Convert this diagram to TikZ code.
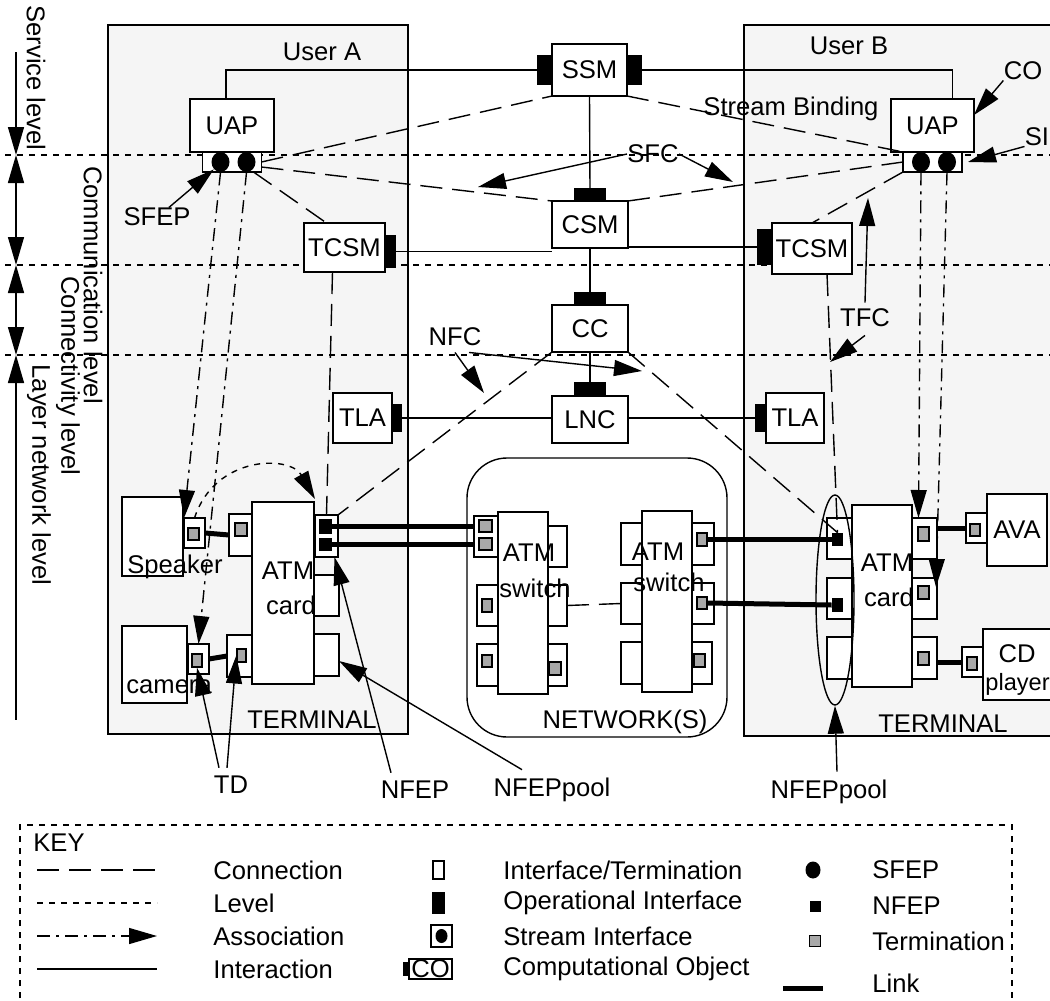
\documentclass[tikz,border=0pt]{standalone}
\usepackage{fontspec}
\setmainfont{Liberation Sans}
\usetikzlibrary{arrows.meta,positioning,shapes.geometric,calc}

\definecolor{usergray}{RGB}{245,245,245}
\definecolor{termgray}{RGB}{168,168,168}

\tikzset{
  sz/.style 2 args={minimum width=#1*0.5pt, minimum height=#2*0.5pt},
  box/.style={draw, fill=white, line width=0.7pt, inner sep=0pt, outer sep=0pt},
  opif/.style={draw, fill=black, line width=0.7pt, inner sep=0pt, outer sep=0pt},
  term/.style={draw, fill=termgray, line width=0.7pt, inner sep=0pt, sz={11}{13}},
  nfsq/.style={fill=black, inner sep=0pt, sz={12}{13}},
  sfep/.style={ellipse, fill=black, inner sep=0pt, sz={18}{20}},
  txt/.style={inner sep=0pt},
  interaction/.style={line width=0.7pt},
  connection/.style={line width=0.7pt, dash pattern=on 11pt off 5pt},
  levelline/.style={line width=0.7pt, dash pattern=on 3pt off 3pt},
  assoc/.style={line width=0.7pt, dash pattern=on 6.5pt off 3pt on 1.5pt off 3pt, ->},
  pointer/.style={line width=0.7pt, ->},
  link/.style={line width=2.5pt},
}

\begin{document}
\begin{tikzpicture}[x=0.5pt, y=-0.5pt, >={Triangle[length=14pt,width=8pt]},
    font=\fontsize{12.8}{15}\selectfont]
    \useasboundingbox (0,0) rectangle (1050,1001);
    \clip (0,0) rectangle (1050,1001);

    % user domains
    \draw[fill=usergray, line width=0.7pt] (108,25) rectangle (408,734);
    \draw[fill=usergray, line width=0.7pt] (744,25) rectangle (1070,736);
    \node[txt] (userA) at (322,52) {User A};
    \node[txt] (userB) at (849,46) {User B};

    % levels
    \foreach \y in {155,265,355} \draw[levelline] (5,\y) -- (1050,\y);
    \coordinate (lv0) at (16,52); \coordinate (lv1) at (16,155); \coordinate (lv2) at (16,265);
    \coordinate (lv3) at (16,355); \coordinate (lv4) at (16,720);
    \draw[pointer] (lv0) -- (lv1); \draw[pointer, <->] (lv1) -- (lv2);
    \draw[pointer, <->] (lv2) -- (lv3); \draw[pointer, <-] (lv3) -- (lv4);
    \node[txt, rotate=-90] (lvService) at (36,78) {Service level};
    \node[txt, rotate=-90] (lvComm) at (93,285) {Communication level};
    \node[txt, rotate=-90] (lvConn) at (68,376) {Connectivity level};
    \node[txt, rotate=-90] (lvLayer) at (39,475) {Layer network level};

    % computational objects
    \node[box, sz={75}{52}] (ssm) at (589.5,70) {SSM};
    \node[opif, sz={14}{28}, anchor=east] (ssmL) at (ssm.west) {};
    \node[opif, sz={14}{28}, anchor=west] (ssmR) at (ssm.east) {};
    \node[box, sz={76}{47}] (csm) at (590,224.5) {CSM};
    \node[opif, sz={31}{12}, anchor=south] (csmT) at (csm.north) {};
    \node[box, sz={76}{47}] (cc) at (590,328.5) {CC};
    \node[opif, sz={31}{12}, anchor=south] (ccT) at (cc.north) {};
    \node[box, sz={76}{47}] (lnc) at (590,419.5) {LNC};
    \node[opif, sz={31}{13}, anchor=south] (lncT) at (lnc.north) {};

    \node[box, sz={84}{53}] (uapA) at (232,125.5) {UAP};
    \node[box, sz={59}{20}, anchor=north] (sifA) at (uapA.south) {};
    \node[sfep] (sfA1) at ($(sifA.center)+(-11.5,0)$) {};
    \node[sfep] (sfA2) at ($(sifA.center)+(14.5,0)$) {};
    \node[box, sz={83}{53}] (uapB) at (932.5,125.5) {UAP};
    \node[box, sz={59}{20}, anchor=north] (sifB) at (uapB.south) {};
    \node[sfep] (sfB1) at ($(sifB.center)+(-11.5,0)$) {};
    \node[sfep] (sfB2) at ($(sifB.center)+(14.5,0)$) {};

    \node[box, sz={81}{49}] (tcsmA) at (344.5,247.5) {TCSM};
    \node[opif, sz={10}{31}, anchor=west] (tcsmAR) at ([yshift=-2pt]tcsmA.east) {};
    \node[box, sz={80}{51}] (tcsmB) at (812,248.5) {TCSM};
    \node[opif, sz={14}{34}, anchor=east] (tcsmBL) at ([yshift=0.75pt]tcsmB.west) {};
    \node[box, sz={59}{50}] (tlaA) at (362.5,418) {TLA};
    \node[opif, sz={9}{27}, anchor=west] (tlaAR) at (tlaA.east) {};
    \node[box, sz={58}{50}] (tlaB) at (795,418) {TLA};
    \node[opif, sz={10}{27}, anchor=east] (tlaBL) at (tlaB.west) {};

    % terminal A
    \node[box, sz={61}{79}] (spk) at (152.5,536.5) {};
    \node[box, sz={21}{30}] (spkT) at (194.5,533) {};
    \node[term, sz={11}{12}] (spkTg) at (193.5,534) {};
    \node[box, sz={62}{182}] (cardA) at (283,593) {};
    \node[box, sz={23}{42}] (cAl1) at (240.5,535) {};
    \node[term, sz={12}{13}] (cAl1g) at (241,529.5) {};
    \node[box, sz={25}{42}] (cAl2) at (239.5,656) {};
    \node[term, sz={9}{13}] (cAl2g) at (241.5,655.5) {};
    \node[box, sz={23}{42}] (nfepA) at (326.5,536) {};
    \node[nfsq, sz={13}{15}] (nfA1) at (325.5,526.5) {};
    \node[nfsq, sz={13}{13}] (nfA2) at (325.5,544.5) {};
    \node[box, sz={25}{41}] (cAr2) at (326.5,595.5) {};
    \node[box, sz={25}{42}] (cAr3) at (326.5,655) {};
    \node[box, sz={65}{77}] (cam) at (154.5,664.5) {};
    \node[box, sz={21}{30}] (camT) at (198.5,659) {};
    \node[term, sz={10}{13}] (camTg) at (197,660.5) {};
    \node[txt, anchor=base west] (spkLbl) at (127,573) {Speaker};
    \node[txt, anchor=base west] (camLbl) at (126,693) {camera};
    \node[txt] (atmA) at (288,571) {ATM};
    \node[txt] (cardALbl) at (291,605) {card};
    \node[txt] (termA) at (312,720) {TERMINAL};

    % network
    \node[draw, line width=0.7pt, rounded corners=20pt, sz={260}{279}] (net) at (597,597.5) {};
    \node[box, sz={50}{182}] (sw1) at (523,603) {};
    \node[box, sz={24}{41}] (sw1l1) at (486,536.5) {};
    \node[term, sz={13}{12}] (sw1l1g) at (485.5,526) {};
    \node[term, sz={13}{12}] (sw1l1h) at (485.5,544) {};
    \node[box, sz={21}{41}] (sw1l2) at (487.5,605.5) {};
    \node[term, sz={10}{13}] (sw1l2g) at (487,605.5) {};
    \node[box, sz={21}{42}] (sw1l3) at (487.5,665) {};
    \node[term, sz={10}{12}] (sw1l3g) at (487,661) {};
    \node[box, sz={19}{41}] (sw1r1) at (557.5,546.5) {};
    \node[box, sz={19}{41}] (sw1r2) at (557.5,605.5) {};
    \node[box, sz={19}{42}] (sw1r3) at (557.5,665) {};
    \node[term, sz={12}{13}] (sw1r3g) at (555,668.5) {};
    \node[box, sz={50}{181}] (sw2) at (667,601.5) {};
    \node[box, sz={21}{42}] (sw2l1) at (631.5,544) {};
    \node[box, sz={21}{41}] (sw2l2) at (631.5,603.5) {};
    \node[box, sz={21}{42}] (sw2l3) at (631.5,663) {};
    \node[box, sz={22}{42}] (sw2r1) at (703,544) {};
    \node[term, sz={10}{13}] (sw2r1g) at (702,539.5) {};
    \node[box, sz={22}{41}] (sw2r2) at (703,603.5) {};
    \node[term, sz={10}{12}] (sw2r2g) at (702,603) {};
    \node[box, sz={20}{42}] (sw2r3) at (702,663) {};
    \node[term, sz={11}{13}] (sw2r3g) at (699.5,660.5) {};
    \node[txt] (atmS1) at (529,553) {ATM};
    \node[txt] (swS1) at (535,588) {switch};
    \node[txt] (atmS2) at (658,552) {ATM};
    \node[txt] (swS2) at (669,582) {switch};
    \node[txt] (netLbl) at (625,722) {NETWORK(S)};

    % terminal B
    \node[box, sz={60}{182}] (cardB) at (882,596) {};
    \node[box, sz={25}{41}] (nfepB) at (839.5,538.5) {};
    \node[nfsq, sz={11}{13}] (nfB1) at (837.5,539.5) {};
    \node[box, sz={25}{41}] (cBl2) at (839.5,598.5) {};
    \node[nfsq, sz={11}{14}] (nfB2) at (837.5,605) {};
    \node[box, sz={25}{42}] (cBl3) at (839.5,658) {};
    \node[draw, ellipse, line width=0.7pt, inner sep=0pt, sz={38}{210}] (poolB) at (835,600) {};
    \node[box, sz={25}{41}] (cBr1) at (924.5,538.5) {};
    \node[term, sz={11}{14}] (cBr1g) at (923.5,534) {};
    \node[box, sz={25}{41}] (cBr2) at (924.5,598.5) {};
    \node[term, sz={11}{13}] (cBr2g) at (923.5,592.5) {};
    \node[box, sz={25}{42}] (cBr3) at (924.5,658) {};
    \node[term, sz={11}{13}] (cBr3g) at (923.5,658.5) {};
    \node[box, sz={60}{72}] (ava) at (1017,530) {AVA};
    \node[box, sz={21}{30}] (avaT) at (976.5,528) {};
    \node[term, sz={10}{12}] (avaTg) at (975,530) {};
    \node[box, sz={77}{71}] (cd) at (1021.5,664.5) {};
    \node[box, sz={21}{30}] (cdT) at (972.5,662) {};
    \node[term, sz={10}{13}] (cdTg) at (972,663.5) {};
    \node[txt] (cdLbl) at (1017,654) {CD};
    \node[txt, anchor=base west, font=\fontsize{11.8}{14}\selectfont] (playerLbl) at (985,690) {player};
    \node[txt] (atmB) at (887,563) {ATM};
    \node[txt] (cardBLbl) at (889,597) {card};
    \node[txt] (termB) at (943,724) {TERMINAL};

    % interactions
    \draw[interaction] (ssmL.west) -| ([xshift=-3pt]uapA.north);
    \draw[interaction] (ssmR.east) -| ([xshift=10pt]uapB.north);
    \draw[interaction] (ssm.south) -- (csmT.north);
    \draw[interaction] (csm.south) -- (ccT.north);
    \draw[interaction] (cc.south) -- (lncT.north);
    \draw[interaction] (tcsmAR.east) -- (tcsmAR.east -| csm.west);
    \draw[interaction] (tcsmBL.west) -- (tcsmBL.west -| csm.east);
    \draw[interaction] (tlaAR.east) -- (tlaAR.east -| lnc.west);
    \draw[interaction] (tlaBL.west) -- (tlaBL.west -| lnc.east);

    % connections
    \draw[connection] (sifA.east) -- (ssm.south west);
    \draw[connection] (ssm.south east) -- (sifB.north west);
    \draw[connection] ([yshift=-2.5pt]sifA.east) -- (csm.north west);
    \draw[connection] (csm.north east) -- (sifB.west);
    \draw[connection] ([xshift=-4pt]sifA.south east) -- ([xshift=-9pt]tcsmA.north);
    \draw[connection] (sifB.south west) -- (tcsmB.north);
    \draw[connection] ([xshift=-6pt]tcsmA.south) -- (nfepA.north);
    \draw[connection] ([xshift=7.5pt]tcsmB.south) -- (nfB1.north);
    \draw[connection] (cc.south west) -- (nfepA.north east);
    \draw[connection] (cc.south east) -- (nfB1.north);
    \draw[connection] (sw1r2.east) -- (sw2l2.west);

    % associations
    \draw[assoc] (sfA1.south) -- (spkT.north west);
    \draw[assoc] (sfA2.south) -- (camT.north);
    \draw[assoc] (sfB1.south) -- ([xshift=-3pt]cBr1.north);
    \draw[assoc] (sfB2.south) -- ([xshift=5.75pt,yshift=-4.5pt]cBr2.north);
    \draw[levelline, ->] (spkT.north) .. controls (215,455) and (290,455) .. ([yshift=8pt]nfepA.north west);

    % links
    \draw[link] (spkT.east) -- (cAl1.west);
    \draw[link] (camT.east) -- (cAl2.west);
    \draw[link] (nfA1.east) -- (nfA1.east -| sw1l1.west);
    \draw[link] (nfA2.east) -- (nfA2.east -| sw1l1.west);
    \draw[link] (sw2r1g.east) -- (nfB1.west);
    \draw[link] (sw2r2g.east) -- (nfB2.west);
    \draw[link] (avaT.west) -- (avaT.west -| cBr1.east);
    \draw[link] (cdT.west) -- (cdT.west -| cBr3.east);

    % labels with pointers
    \node[txt] (sfepLbl) at (157,217) {SFEP};
    \draw[pointer] ([xshift=-11pt]sfepLbl.north east) -- (sfA1.south west);
    \node[txt] (coLbl) at (1023,71) {CO};
    \draw[pointer] (coLbl.south west) -- ([yshift=-8pt]uapB.north east);
    \node[txt] (siLbl) at (1037,137) {SI};
    \draw[pointer] (siLbl.south west) -- ([xshift=3pt]sifB.east);
    \node[txt] (sbLbl) at (791,109) {Stream Binding};
    \node[txt] (sfcLbl) at (653,154) {SFC};
    \coordinate (sfcL) at (478,187); \coordinate (sfcR) at (733,182);
    \draw[pointer] (sfcLbl.west) -- (sfcL);
    \draw[pointer] (sfcLbl.east) -- (sfcR);
    \node[txt] (tfcLbl) at (865,318) {TFC};
    \coordinate (tfcU) at (868,198); \coordinate (tfcD) at (830,362);
    \draw[pointer] ([yshift=3pt]tfcLbl.north) -- (tfcU);
    \draw[pointer] ([yshift=-4pt]tfcLbl.south) -- (tfcD);
    \node[txt] (nfcLbl) at (455,337) {NFC};
    \coordinate (nfcL) at (484,393); \coordinate (nfcR) at (642,371);
    \draw[pointer] ([yshift=-3pt]nfcLbl.south) -- (nfcL);
    \draw[pointer] ([xshift=7pt,yshift=-3pt]nfcLbl.south) -- (nfcR);
    \node[txt] (tdLbl) at (231,785) {TD};
    \draw[pointer] ([xshift=-6pt,yshift=4pt]tdLbl.north) -- (camTg.south);
    \draw[pointer] ([xshift=-2pt,yshift=4pt]tdLbl.north) -- (cAl2g.west);
    \node[txt] (nfepLbl) at (415,790) {NFEP};
    \draw[pointer] ([xshift=-12pt,yshift=4pt]nfepLbl.north) -- ([xshift=4pt]nfepA.south);
    \node[txt] (poolALbl) at (552,790) {NFEPpool};
    \draw[pointer] ([xshift=-15pt,yshift=4pt]poolALbl.north) -- ([yshift=-3pt]cAr3.east);
    \node[txt] (poolBLbl) at (829,792) {NFEPpool};
    \draw[pointer] ([xshift=4pt,yshift=4pt]poolBLbl.north) -- (poolB.south);

    % key
    \draw[levelline] (20,1010) -- (20,825) -- (1012,825) -- (1012,1010);
    \node[txt, anchor=west] (keyLbl) at (33,843) {KEY};
    \foreach \sty/\y [count=\i] in {connection/870, levelline/903, assoc/936, interaction/969} {
        \coordinate (ks\i) at (37,\y); \coordinate (ke\i) at (157,\y);
        \draw[\sty] (ks\i) -- (ke\i);
    }
    \foreach \txt/\y [count=\i] in {Connection/870, Level/903, Association/936, Interaction/969}
        \node[txt, anchor=west] (kl\i) at (213,\y) {\txt};
    \node[box, sz={11}{18}] (kIf) at (438.5,870) {};
    \node[opif, sz={11}{20}] (kOp) at (438.5,903) {};
    \node[box, sz={21}{22}] (kSi) at (441.5,936) {};
    \node[sfep, sz={12}{14}] (kSiDot) at (kSi) {};
    \node[box, sz={43}{20}] (kCo) at (430.5,969) {CO};
    \node[opif, sz={5}{12}, anchor=east] (kCoOp) at (kCo.west) {};
    \node[txt, anchor=west] (km1) at (503,870) {Interface/Termination};
    \node[txt, anchor=west] (km2) at (503,903) {Operational Interface};
    \node[txt, anchor=west] (km3) at (503,936) {Stream Interface};
    \node[txt, anchor=west] (km4) at (503,969) {Computational Object};
    \node[sfep, sz={15}{17}] (kSf) at (813,870) {};
    \node[nfsq, sz={11}{11}] (kNf) at (815,906) {};
    \node[term, sz={11}{11}] (kTm) at (815,941) {};
    \coordinate (kLs) at (783,988); \coordinate (kLe) at (823,988);
    \draw[link] (kLs) -- (kLe);
    \node[txt, anchor=west] (kr1) at (872,870) {SFEP};
    \node[txt, anchor=west] (kr2) at (872,906) {NFEP};
    \node[txt, anchor=west] (kr3) at (872,941) {Termination};
    \node[txt, anchor=west] (kr4) at (872,983) {Link};
\end{tikzpicture}
\end{document}
